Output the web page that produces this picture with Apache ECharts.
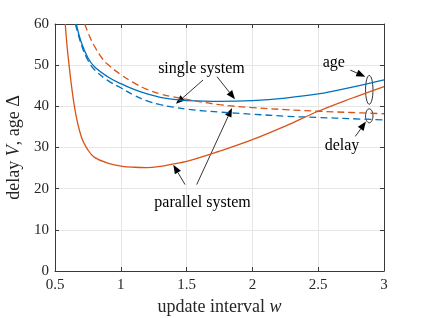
<!DOCTYPE html>
<html><head><meta charset="utf-8">
<script src="https://cdn.jsdelivr.net/npm/echarts@6/dist/echarts.min.js"></script>
<style>html,body{margin:0;padding:0;background:#fff}#c{width:424px;height:318px}</style>
</head><body><div id="c"></div>
<script>
// ---- data ----
const xTicks = [0.5, 1, 1.5, 2, 2.5, 3];
const yTicks = [0, 10, 20, 30, 40, 50, 60];

const singleAgeW = [0.662,0.7,0.75,0.8,0.9,1.0,1.1,1.2,1.3,1.4,1.5,1.75,2.0,2.25,2.5,2.75,3.0];
const singleAge  = [60,55.5,51.8,49.6,47.2,45.5,44.1,43.0,42.2,41.7,41.4,41.2,41.4,42.0,43.0,44.6,46.4];

const singleDelayW = [0.655,0.7,0.75,0.8,0.9,1.0,1.1,1.2,1.3,1.4,1.5,1.75,2.0,2.25,2.5,2.75,3.0];
const singleDelay  = [60,55,51.2,48.9,46.3,44.5,42.7,41.3,40.4,39.8,39.3,38.6,38.1,37.6,37.3,37.0,36.7];

const parallelAgeW = [0.578,0.6,0.65,0.7,0.75,0.8,0.9,1.0,1.1,1.2,1.3,1.4,1.5,1.75,2.0,2.25,2.5,2.75,3.0];
const parallelAge  = [60,52,39.5,32.6,29.4,27.6,26.2,25.5,25.2,25.1,25.4,26.0,26.6,29.1,31.9,35.2,38.8,41.9,44.8];

const parallelDelayW = [0.726,0.76,0.8,0.855,0.9,1.0,1.1,1.2,1.3,1.4,1.5,1.75,2.0,2.25,2.5,2.75,3.0];
const parallelDelay  = [60,57.2,54.6,51.8,50.2,47.7,45.7,44.1,43.0,42.3,41.7,40.4,39.7,39.2,38.8,38.5,38.2];

// annotation anchors in data coordinates
const labels = [
  {text: 'single system', at: [1.613, 49.1]},
  {text: 'parallel system', at: [1.621, 16.6]},
  {text: 'age', at: [2.618, 50.5]},
  {text: 'delay', at: [2.681, 30.3]}
];
const arrows = [
  {from: [1.625, 46.4], to: [1.419, 40.6]},
  {from: [1.731, 47.2], to: [1.868, 41.7]},
  {from: [1.488, 21.0], to: [1.399, 25.8]},
  {from: [1.577, 21.0], to: [1.845, 39.6]},
  {from: [2.744, 48.8], to: [2.858, 47.2]},
  {from: [2.782, 32.7], to: [2.863, 36.3]}
];
const ellipses = [
  {center: [2.888, 44.0], top: 47.5},
  {center: [2.888, 37.7], top: 39.4}
];

// ---- chart ----
const zip = (a, b) => a.map((v, i) => [v, b[i]]);
const FONT = '"Liberation Serif","Times New Roman",serif';
const BLUE = '#0072BD', ORANGE = '#D95319';
const AX = '#3a3a3a';

const chart = echarts.init(document.getElementById('c'), null, {renderer: 'canvas'});

const baseX = {
  type: 'value', min: xTicks[0], max: xTicks[xTicks.length - 1], interval: 0.5,
  axisLine: {show: true, onZero: false, lineStyle: {color: AX, width: 1}},
  axisTick: {show: true, inside: true, length: 4, lineStyle: {color: AX}},
};
const baseY = {
  type: 'value', min: yTicks[0], max: yTicks[yTicks.length - 1], interval: 10,
  axisLine: {show: true, onZero: false, lineStyle: {color: AX, width: 1}},
  axisTick: {show: true, inside: true, length: 4, lineStyle: {color: AX}},
};

function line(name, w, v, color, dashed) {
  return {
    name, type: 'line', data: zip(w, v), showSymbol: false, symbol: 'none',
    smooth: 0.4, clip: true, animation: false,
    lineStyle: {color, width: 1.3, type: dashed ? [7, 4] : 'solid'}
  };
}
const rich = {n: {fontFamily: FONT, fontSize: 18, color: '#262626'},
              i: {fontFamily: FONT, fontSize: 18, fontStyle: 'italic', color: '#262626'}};

chart.setOption({
  animation: false,
  backgroundColor: '#fff',
  grid: {left: 55, right: 40, top: 24, bottom: 47, containLabel: false, outerBoundsMode: 'none'},
  xAxis: [
    Object.assign({}, baseX, {
      position: 'bottom',
      axisLabel: {color: '#262626', fontFamily: FONT, fontSize: 15, margin: 7},
      splitLine: {show: true, lineStyle: {color: '#e6e6e6', width: 1}},
      name: '{n|update interval }{i|w}', nameLocation: 'middle', nameGap: 25,
      nameTextStyle: {color: '#262626', fontFamily: FONT, fontSize: 18, rich}
    }),
    Object.assign({}, baseX, {position: 'top', axisLabel: {show: false}, splitLine: {show: false}})
  ],
  yAxis: [
    Object.assign({}, baseY, {
      position: 'left',
      axisLabel: {color: '#262626', fontFamily: FONT, fontSize: 15, margin: 6},
      splitLine: {show: true, lineStyle: {color: '#e6e6e6', width: 1}},
      name: '{n|delay }{i|V}{n|, age Δ}', nameLocation: 'middle', nameGap: 30,
      nameTextStyle: {color: '#262626', fontFamily: FONT, fontSize: 18, rich}
    }),
    Object.assign({}, baseY, {position: 'right', axisLabel: {show: false}, splitLine: {show: false}})
  ],
  series: [
    line('single age', singleAgeW, singleAge, BLUE, false),
    line('single delay', singleDelayW, singleDelay, BLUE, true),
    line('parallel age', parallelAgeW, parallelAge, ORANGE, false),
    line('parallel delay', parallelDelayW, parallelDelay, ORANGE, true)
  ]
});

// annotations
const px = p => chart.convertToPixel({xAxisIndex: 0, yAxisIndex: 0}, p);
const graphics = [];
labels.forEach(l => {
  const p = px(l.at);
  graphics.push({type: 'text', x: p[0], y: p[1], silent: true,
    style: {text: l.text, font: '16px ' + FONT, fill: '#000', align: 'center', verticalAlign: 'middle'}});
});
arrows.forEach(a => {
  const p1 = px(a.from), p2 = px(a.to);
  const dx = p2[0] - p1[0], dy = p2[1] - p1[1];
  const L = Math.hypot(dx, dy), ux = dx / L, uy = dy / L;
  const hl = 9, hw = 3.5;
  const bx = p2[0] - ux * hl, by = p2[1] - uy * hl;
  graphics.push({type: 'line', silent: true,
    shape: {x1: p1[0], y1: p1[1], x2: bx, y2: by},
    style: {stroke: '#000', lineWidth: 0.8}});
  graphics.push({type: 'polygon', silent: true,
    shape: {points: [[p2[0], p2[1]], [bx - uy * hw, by + ux * hw], [bx + uy * hw, by - ux * hw]]},
    style: {fill: '#000'}});
});
ellipses.forEach(e => {
  const c = px(e.center), t = px([e.center[0], e.top]);
  graphics.push({type: 'ellipse', silent: true,
    shape: {cx: c[0], cy: c[1], rx: 3.7, ry: Math.abs(c[1] - t[1])},
    style: {fill: 'none', stroke: '#000', lineWidth: 0.8}});
});
chart.setOption({graphic: graphics});
</script>
</body></html>
